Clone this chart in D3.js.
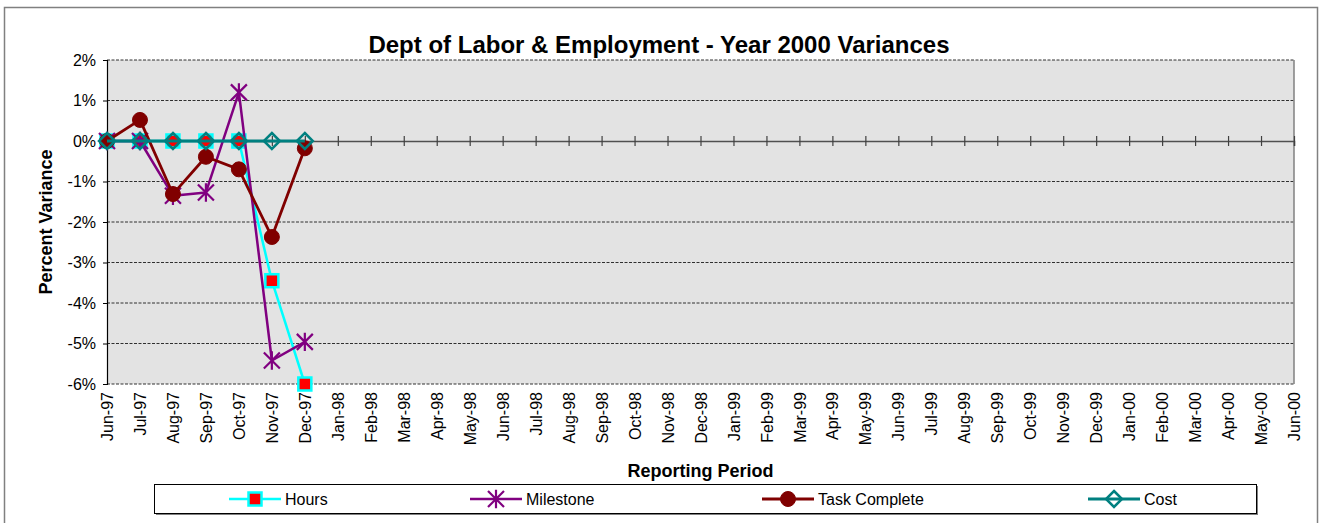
<!DOCTYPE html>
<html>
<head>
<meta charset="utf-8">
<script src="https://cdn.jsdelivr.net/npm/d3@7"></script>
<style>
  html, body { margin: 0; padding: 0; background: #ffffff; }
  svg { display: block; font-family: Arial, "Liberation Sans", sans-serif; }
</style>
</head>
<body>
<svg id="chart" width="1321" height="523"></svg>
<script>
// Reporting periods (monthly, Jun-97 through Jun-00)
const categories = [
  "Jun-97","Jul-97","Aug-97","Sep-97","Oct-97","Nov-97","Dec-97",
  "Jan-98","Feb-98","Mar-98","Apr-98","May-98","Jun-98","Jul-98","Aug-98","Sep-98","Oct-98","Nov-98","Dec-98",
  "Jan-99","Feb-99","Mar-99","Apr-99","May-99","Jun-99","Jul-99","Aug-99","Sep-99","Oct-99","Nov-99","Dec-99",
  "Jan-00","Feb-00","Mar-00","Apr-00","May-00","Jun-00"
];

// Variance series, in percent, reported Jun-97 .. Dec-97
const hours        = [0, 0, 0, 0, 0, -3.45, -6.0];
const milestone    = [0, 0, -1.35, -1.27, 1.2, -5.42, -4.96];
const taskComplete = [0, 0.52, -1.31, -0.39, -0.7, -2.37, -0.18];
const cost         = [0, 0, 0, 0, 0, 0, 0];

// Y axis tick values, in percent
const yTicks = [-6, -5, -4, -3, -2, -1, 0, 1, 2];

const seriesNames = ["Hours", "Milestone", "Task Complete", "Cost"];

const svg = d3.select("#chart");
const plot = { left: 107, top: 60, right: 1294, bottom: 384 };

// Outer chart border
svg.append("rect")
  .attr("x", 4.5).attr("y", 7.5)
  .attr("width", 1313).attr("height", 520)
  .attr("fill", "#ffffff")
  .attr("stroke", "#808080").attr("stroke-width", 1.5);

const x = d3.scalePoint().domain(categories).range([plot.left, plot.right]);
const y = d3.scaleLinear().domain([-6, 2]).range([plot.bottom, plot.top]);

// Plot area background
svg.append("rect")
  .attr("x", plot.left).attr("y", plot.top)
  .attr("width", plot.right - plot.left).attr("height", plot.bottom - plot.top)
  .attr("fill", "#e3e3e3");

// Horizontal dashed gridlines
svg.append("g")
  .selectAll("line")
  .data(yTicks.filter(d => d !== 0))
  .join("line")
  .attr("x1", plot.left).attr("x2", plot.right)
  .attr("y1", d => y(d)).attr("y2", d => y(d))
  .attr("stroke", "#303030").attr("stroke-width", 1)
  .attr("stroke-dasharray", "3,1.5");

// Right edge of plot area
svg.append("line")
  .attr("x1", plot.right).attr("x2", plot.right)
  .attr("y1", plot.top).attr("y2", plot.bottom)
  .attr("stroke", "#808080").attr("stroke-width", 1.5);

// Category axis drawn along the 0% line, tick marks crossing it
const zeroAxis = svg.append("g")
  .attr("transform", `translate(0,${y(0)})`)
  .call(d3.axisBottom(x).tickSize(5).tickFormat(""));
zeroAxis.select(".domain").attr("stroke", "#505050").attr("stroke-width", 1.5);
zeroAxis.selectAll(".tick line")
  .attr("y1", -5).attr("y2", 5)
  .attr("stroke", "#404040").attr("stroke-width", 1.2);

// Category labels below the plot, rotated
const labelAxis = svg.append("g")
  .attr("transform", `translate(0,${plot.bottom})`)
  .call(d3.axisBottom(x).tickSize(0).tickPadding(0));
labelAxis.select(".domain").remove();
labelAxis.selectAll(".tick text")
  .attr("transform", "rotate(-90)")
  .attr("x", -8).attr("y", 0).attr("dy", "0.35em")
  .attr("text-anchor", "end")
  .attr("font-size", 16)
  .attr("font-family", "Arial, 'Liberation Sans', sans-serif")
  .attr("fill", "#000");

// Value axis
const yAxis = svg.append("g")
  .attr("transform", `translate(${plot.left},0)`)
  .call(d3.axisLeft(y).tickValues(yTicks).tickFormat(d => d + "%").tickSize(4).tickPadding(7));
yAxis.select(".domain").attr("stroke", "#000").attr("stroke-width", 1.2);
yAxis.selectAll(".tick line").attr("stroke", "#000");
yAxis.selectAll(".tick text")
  .attr("font-size", 16)
  .attr("font-family", "Arial, 'Liberation Sans', sans-serif")
  .attr("fill", "#000");

// Titles
svg.append("text")
  .attr("x", 659).attr("y", 53)
  .attr("text-anchor", "middle")
  .attr("font-size", 24).attr("font-weight", "bold")
  .text("Dept of Labor & Employment - Year 2000 Variances");

svg.append("text")
  .attr("transform", `translate(52,222) rotate(-90)`)
  .attr("text-anchor", "middle")
  .attr("font-size", 18).attr("font-weight", "bold")
  .text("Percent Variance");

svg.append("text")
  .attr("x", (plot.left + plot.right) / 2).attr("y", 477)
  .attr("text-anchor", "middle")
  .attr("font-size", 18).attr("font-weight", "bold")
  .text("Reporting Period");

// Marker painters
function markerHours(g) {
  g.append("rect").attr("x", -6.5).attr("y", -6.5).attr("width", 13).attr("height", 13)
    .attr("fill", "#ff0000").attr("stroke", "#00ffff").attr("stroke-width", 2.5);
}
function markerMilestone(g) {
  const s = 8;
  g.append("path")
    .attr("d", `M${-s},${-s}L${s},${s}M${-s},${s}L${s},${-s}M0,${-s * 1.15}L0,${s * 1.15}`)
    .attr("stroke", "#800080").attr("stroke-width", 2.2).attr("fill", "none");
}
function markerTask(g) {
  g.append("circle").attr("r", 7.5).attr("fill", "#800000").attr("stroke", "#800000").attr("stroke-width", 1);
}
function markerCost(g) {
  const s = 8;
  g.append("path")
    .attr("d", `M0,${-s}L${s},0L0,${s}L${-s},0Z`)
    .attr("fill", "none").attr("stroke", "#008080").attr("stroke-width", 2.5);
}

const series = [
  { name: seriesNames[0], values: hours, color: "#00ffff", width: 2.5, marker: markerHours },
  { name: seriesNames[1], values: milestone, color: "#800080", width: 2.5, marker: markerMilestone },
  { name: seriesNames[2], values: taskComplete, color: "#800000", width: 2.8, marker: markerTask },
  { name: seriesNames[3], values: cost, color: "#008080", width: 2.8, marker: markerCost }
];

const line = d3.line()
  .x((d, i) => x(categories[i]))
  .y(d => y(d));

series.forEach(s => {
  const g = svg.append("g").attr("class", "series");
  g.append("path")
    .datum(s.values)
    .attr("d", line)
    .attr("fill", "none")
    .attr("stroke", s.color)
    .attr("stroke-width", s.width)
    .attr("stroke-linejoin", "round");
  s.values.forEach((v, i) => {
    const m = g.append("g").attr("transform", `translate(${x(categories[i])},${y(v)})`);
    s.marker(m);
  });
});

// Legend
const legend = { x: 154, y: 484, w: 1102, h: 29 };
svg.append("rect")
  .attr("x", legend.x + 2).attr("y", legend.y + 2)
  .attr("width", legend.w).attr("height", legend.h)
  .attr("fill", "#808080");
svg.append("rect")
  .attr("x", legend.x + 0.5).attr("y", legend.y + 0.5)
  .attr("width", legend.w).attr("height", legend.h)
  .attr("fill", "#ffffff").attr("stroke", "#000").attr("stroke-width", 1);

const legendX = [229, 470, 762, 1088];
series.forEach((s, i) => {
  const lx = legendX[i], ly = legend.y + 15;
  const g = svg.append("g");
  g.append("line")
    .attr("x1", lx).attr("x2", lx + 52)
    .attr("y1", ly).attr("y2", ly)
    .attr("stroke", s.color).attr("stroke-width", s.width);
  s.marker(g.append("g").attr("transform", `translate(${lx + 26},${ly})`));
  g.append("text")
    .attr("x", lx + 56).attr("y", ly + 6)
    .attr("font-size", 16)
    .text(s.name);
});
</script>
</body>
</html>
